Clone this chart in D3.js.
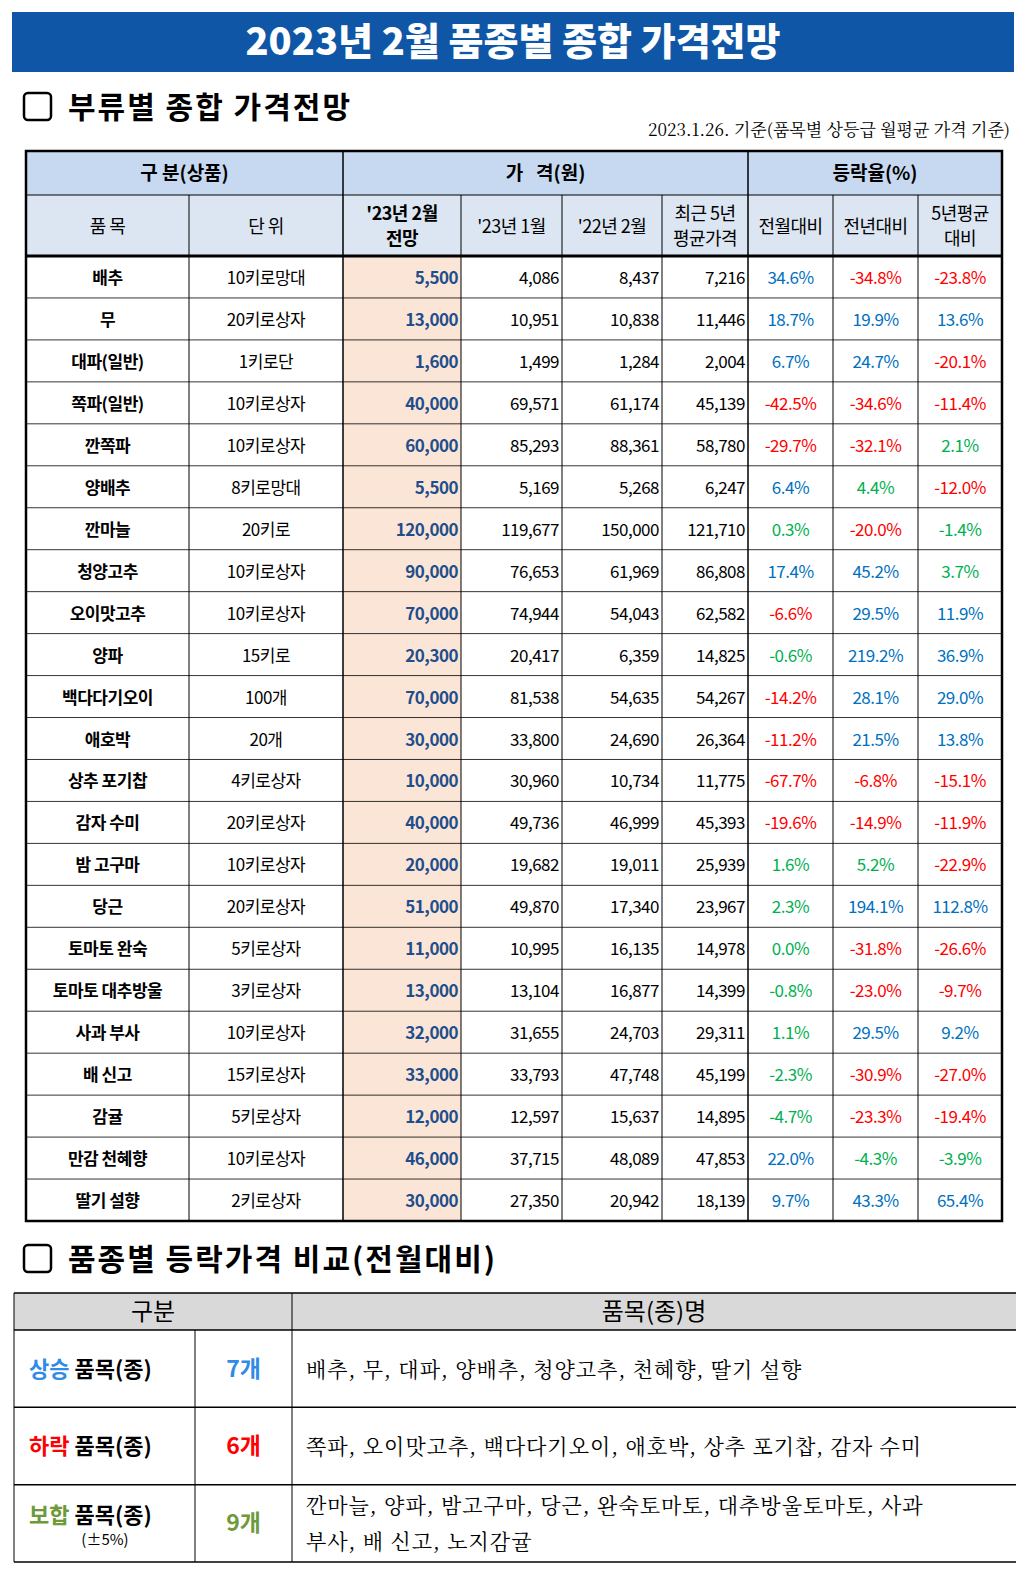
<!DOCTYPE html>
<html><head><meta charset="utf-8">
<script src="https://cdn.jsdelivr.net/npm/d3@7"></script>
<style>body{margin:0;background:#fff}</style>
</head><body>
<svg id="c" width="1024" height="1572"></svg>
<script>
const items = ["배추","무","대파(일반)","쪽파(일반)","깐쪽파","양배추","깐마늘","청양고추","오이맛고추","양파","백다다기오이","애호박","상추 포기찹","감자 수미","밤 고구마","당근","토마토 완숙","토마토 대추방울","사과 부사","배 신고","감귤","만감 천혜향","딸기 설향"];
const units = ["10키로망대","20키로상자","1키로단","10키로상자","10키로상자","8키로망대","20키로","10키로상자","10키로상자","15키로","100개","20개","4키로상자","20키로상자","10키로상자","20키로상자","5키로상자","3키로상자","10키로상자","15키로상자","5키로상자","10키로상자","2키로상자"];
const forecast = [5500,13000,1600,40000,60000,5500,120000,90000,70000,20300,70000,30000,10000,40000,20000,51000,11000,13000,32000,33000,12000,46000,30000];
const jan23 = [4086,10951,1499,69571,85293,5169,119677,76653,74944,20417,81538,33800,30960,49736,19682,49870,10995,13104,31655,33793,12597,37715,27350];
const feb22 = [8437,10838,1284,61174,88361,5268,150000,61969,54043,6359,54635,24690,10734,46999,19011,17340,16135,16877,24703,47748,15637,48089,20942];
const avg5 = [7216,11446,2004,45139,58780,6247,121710,86808,62582,14825,54267,26364,11775,45393,25939,23967,14978,14399,29311,45199,14895,47853,18139];
const momPct = [34.6,18.7,6.7,-42.5,-29.7,6.4,0.3,17.4,-6.6,-0.6,-14.2,-11.2,-67.7,-19.6,1.6,2.3,0.0,-0.8,1.1,-2.3,-4.7,22.0,9.7];
const yoyPct = [-34.8,19.9,24.7,-34.6,-32.1,4.4,-20.0,45.2,29.5,219.2,28.1,21.5,-6.8,-14.9,5.2,194.1,-31.8,-23.0,29.5,-30.9,-23.3,-4.3,43.3];
const avgPct = [-23.8,13.6,-20.1,-11.4,2.1,-12.0,-1.4,3.7,11.9,36.9,29.0,13.8,-15.1,-11.9,-22.9,112.8,-26.6,-9.7,9.2,-27.0,-19.4,-3.9,65.4];
const colEdges = [26,189,343,461,562,662,748,833,918,1002];
const groups = [
  {label:"상승", color:"#2f8be6", count:"7개", list:["배추, 무, 대파, 양배추, 청양고추, 천혜향, 딸기 설향"]},
  {label:"하락", color:"#ff0000", count:"6개", list:["쪽파, 오이맛고추, 백다다기오이, 애호박, 상추 포기찹, 감자 수미"]},
  {label:"보합", color:"#6e9a3a", count:"9개", list:["깐마늘, 양파, 밤고구마, 당근, 완숙토마토, 대추방울토마토, 사과","부사, 배 신고, 노지감귤"], note:"(±5%)"}
];

const F = "'Noto Sans CJK KR','Noto Sans',sans-serif";
const svg = d3.select("#c").attr("font-family", F);
const fmt = d3.format(",");
const pctColor = v => Math.abs(v) < 6 ? "#00b050" : (v > 0 ? "#0070c0" : "#ff0000");

// title
svg.append("rect").attr("x",12).attr("y",12).attr("width",1002).attr("height",60).attr("fill","#0f57a6");
svg.append("text").attr("x",513).attr("y",55).attr("text-anchor","middle").attr("fill","#fff")
  .attr("font-size",38).attr("font-weight",900).text("2023년 2월 품종별 종합 가격전망");

function heading(y, txt){
  svg.append("rect").attr("x",24).attr("y",y-22).attr("width",27).attr("height",27).attr("rx",4)
    .attr("fill","none").attr("stroke","#000").attr("stroke-width",2.5);
  svg.append("text").attr("x",68).attr("y",y+3).attr("font-size",30).attr("font-weight",700)
    .attr("letter-spacing",2).text(txt);
}
heading(115, "부류별 종합 가격전망");
svg.append("text").attr("x",1010).attr("y",136).attr("text-anchor","end").attr("font-size",17)
  .attr("font-family","'Noto Serif CJK KR','DejaVu Serif',serif").text("2023.1.26. 기준(품목별 상등급 월평균 가격 기준)");

// main table
const x = i => colEdges[i];
const tTop = 151, h1 = 44, h2 = 61;
const bodyTop = tTop + h1 + h2;
const y = d3.scaleLinear().domain([0, items.length]).range([bodyTop, 1221]);
const rh = y(1) - y(0);
const g = svg.append("g");

g.append("rect").attr("x",x(0)).attr("y",tTop).attr("width",x(9)-x(0)).attr("height",h1).attr("fill","#c6d9f0");
g.append("rect").attr("x",x(0)).attr("y",tTop+h1).attr("width",x(9)-x(0)).attr("height",h2).attr("fill","#dce6f2");
g.append("rect").attr("x",x(2)).attr("y",bodyTop).attr("width",x(3)-x(2)).attr("height",y(items.length)-bodyTop).attr("fill","#fbe5d6");

const top1 = [["구 분(상품)",0,2],["가   격(원)",2,6],["등락율(%)",6,9]];
g.selectAll(".h1").data(top1).join("text").attr("x",d=>(x(d[1])+x(d[2]))/2).attr("y",tTop+h1/2+7)
  .attr("text-anchor","middle").attr("font-size",19).attr("font-weight",700).attr("xml:space","preserve").text(d=>d[0]);

const top2 = [["품 목"],["단 위"],["'23년 2월","전망"],["'23년 1월"],["'22년 2월"],["최근 5년","평균가격"],["전월대비"],["전년대비"],["5년평균","대비"]];
top2.forEach((lines,i)=>{
  const cx = (x(i)+x(i+1))/2, cy = tTop+h1+h2/2;
  lines.forEach((l,j)=>{
    g.append("text").attr("x",cx).attr("y",cy+7+(j-(lines.length-1)/2)*25).attr("text-anchor","middle")
      .attr("font-size",18).attr("font-weight",i===2?700:400).attr("letter-spacing",-0.5).text(l);
  });
});

// grid lines
for(let i=1;i<9;i++){
  const major = [2,6].includes(i);
  g.append("line").attr("x1",x(i)).attr("x2",x(i)).attr("y1",major?tTop:tTop+h1).attr("y2",y(items.length))
    .attr("stroke","#000").attr("stroke-width",major?1.5:1);
}
g.append("line").attr("x1",x(0)).attr("x2",x(9)).attr("y1",tTop+h1).attr("y2",tTop+h1).attr("stroke","#000");
g.append("line").attr("x1",x(0)).attr("x2",x(9)).attr("y1",bodyTop).attr("y2",bodyTop).attr("stroke","#000").attr("stroke-width",3);
items.forEach((_,r)=>{ if(r>0) g.append("line").attr("x1",x(0)).attr("x2",x(9)).attr("y1",y(r)).attr("y2",y(r)).attr("stroke","#000").attr("stroke-width",0.8); });
g.append("rect").attr("x",x(0)).attr("y",tTop).attr("width",x(9)-x(0)).attr("height",y(items.length)-tTop)
  .attr("fill","none").attr("stroke","#000").attr("stroke-width",2.5);

// body cells
const cols = [
  {v:items, a:"middle", w:700, c:()=> "#000", f:d=>d},
  {v:units, a:"middle", w:400, c:()=> "#000", f:d=>d},
  {v:forecast, a:"end", w:700, c:()=> "#1f4e8c", f:fmt},
  {v:jan23, a:"end", w:400, c:()=> "#000", f:fmt},
  {v:feb22, a:"end", w:400, c:()=> "#000", f:fmt},
  {v:avg5, a:"end", w:400, c:()=> "#000", f:fmt},
  {v:momPct, a:"middle", w:400, c:pctColor, f:d=>d.toFixed(1)+"%"},
  {v:yoyPct, a:"middle", w:400, c:pctColor, f:d=>d.toFixed(1)+"%"},
  {v:avgPct, a:"middle", w:400, c:pctColor, f:d=>d.toFixed(1)+"%"}
];
cols.forEach((col,i)=>{
  g.append("g").selectAll("text").data(col.v).join("text")
    .attr("x", col.a==="end" ? x(i+1)-3 : (x(i)+x(i+1))/2)
    .attr("y",(d,r)=>y(r)+rh/2+7).attr("text-anchor",col.a)
    .attr("font-size",17).attr("font-weight",col.w).attr("fill",d=>col.c(d))
    .attr("letter-spacing",-0.5).text(col.f);
});

// second section
heading(1267, "품종별 등락가격 비교(전월대비)");
const bx = [14,195,292,1016], bTop = 1293, bh1 = 37;
const by = d3.scaleLinear().domain([0,groups.length]).range([bTop+bh1, 1562]);
const s = svg.append("g");
s.append("rect").attr("x",bx[0]).attr("y",bTop).attr("width",bx[3]-bx[0]).attr("height",bh1).attr("fill","#d9d9d9");
s.append("text").attr("x",(bx[0]+bx[2])/2).attr("y",bTop+27).attr("text-anchor","middle").attr("font-size",24).text("구분");
s.append("text").attr("x",(bx[2]+bx[3])/2).attr("y",bTop+27).attr("text-anchor","middle").attr("font-size",24).text("품목(종)명");
groups.forEach((d,r)=>{
  const y0 = by(r), y1 = by(r+1), cy = (y0+y1)/2;
  const t = s.append("text").attr("x",bx[0]+15).attr("y",cy+(d.note?0:8)).attr("font-size",22).attr("font-weight",700);
  t.append("tspan").attr("fill",d.color).text(d.label);
  t.append("tspan").text(" 품목(종)");
  if(d.note) s.append("text").attr("x",105).attr("y",cy+22).attr("text-anchor","middle").attr("font-size",15).text(d.note);
  s.append("text").attr("x",(bx[1]+bx[2])/2).attr("y",cy+8).attr("text-anchor","middle").attr("font-size",23)
    .attr("font-weight",700).attr("fill",d.color).text(d.count);
  d.list.forEach((l,j)=>{
    s.append("text").attr("x",bx[2]+14).attr("y",cy+8+(j-(d.list.length-1)/2)*36).attr("font-size",21)
      .attr("font-family","'Noto Serif CJK KR','Noto Sans CJK KR',serif").attr("letter-spacing",1).text(l);
  });
  s.append("line").attr("x1",bx[0]).attr("x2",bx[3]).attr("y1",y1).attr("y2",y1).attr("stroke","#000").attr("stroke-width",1.5);
});
s.append("line").attr("x1",bx[0]).attr("x2",bx[3]).attr("y1",bTop).attr("y2",bTop).attr("stroke","#000").attr("stroke-width",1.5);
s.append("line").attr("x1",bx[0]).attr("x2",bx[3]).attr("y1",bTop+bh1).attr("y2",bTop+bh1).attr("stroke","#000").attr("stroke-width",1.5);
s.append("line").attr("x1",bx[1]).attr("x2",bx[1]).attr("y1",bTop+bh1).attr("y2",1562).attr("stroke","#000");
s.append("line").attr("x1",bx[2]).attr("x2",bx[2]).attr("y1",bTop).attr("y2",1562).attr("stroke","#000");
s.append("line").attr("x1",bx[0]).attr("x2",bx[0]).attr("y1",bTop).attr("y2",1562).attr("stroke","#000");
</script>
</body></html>
